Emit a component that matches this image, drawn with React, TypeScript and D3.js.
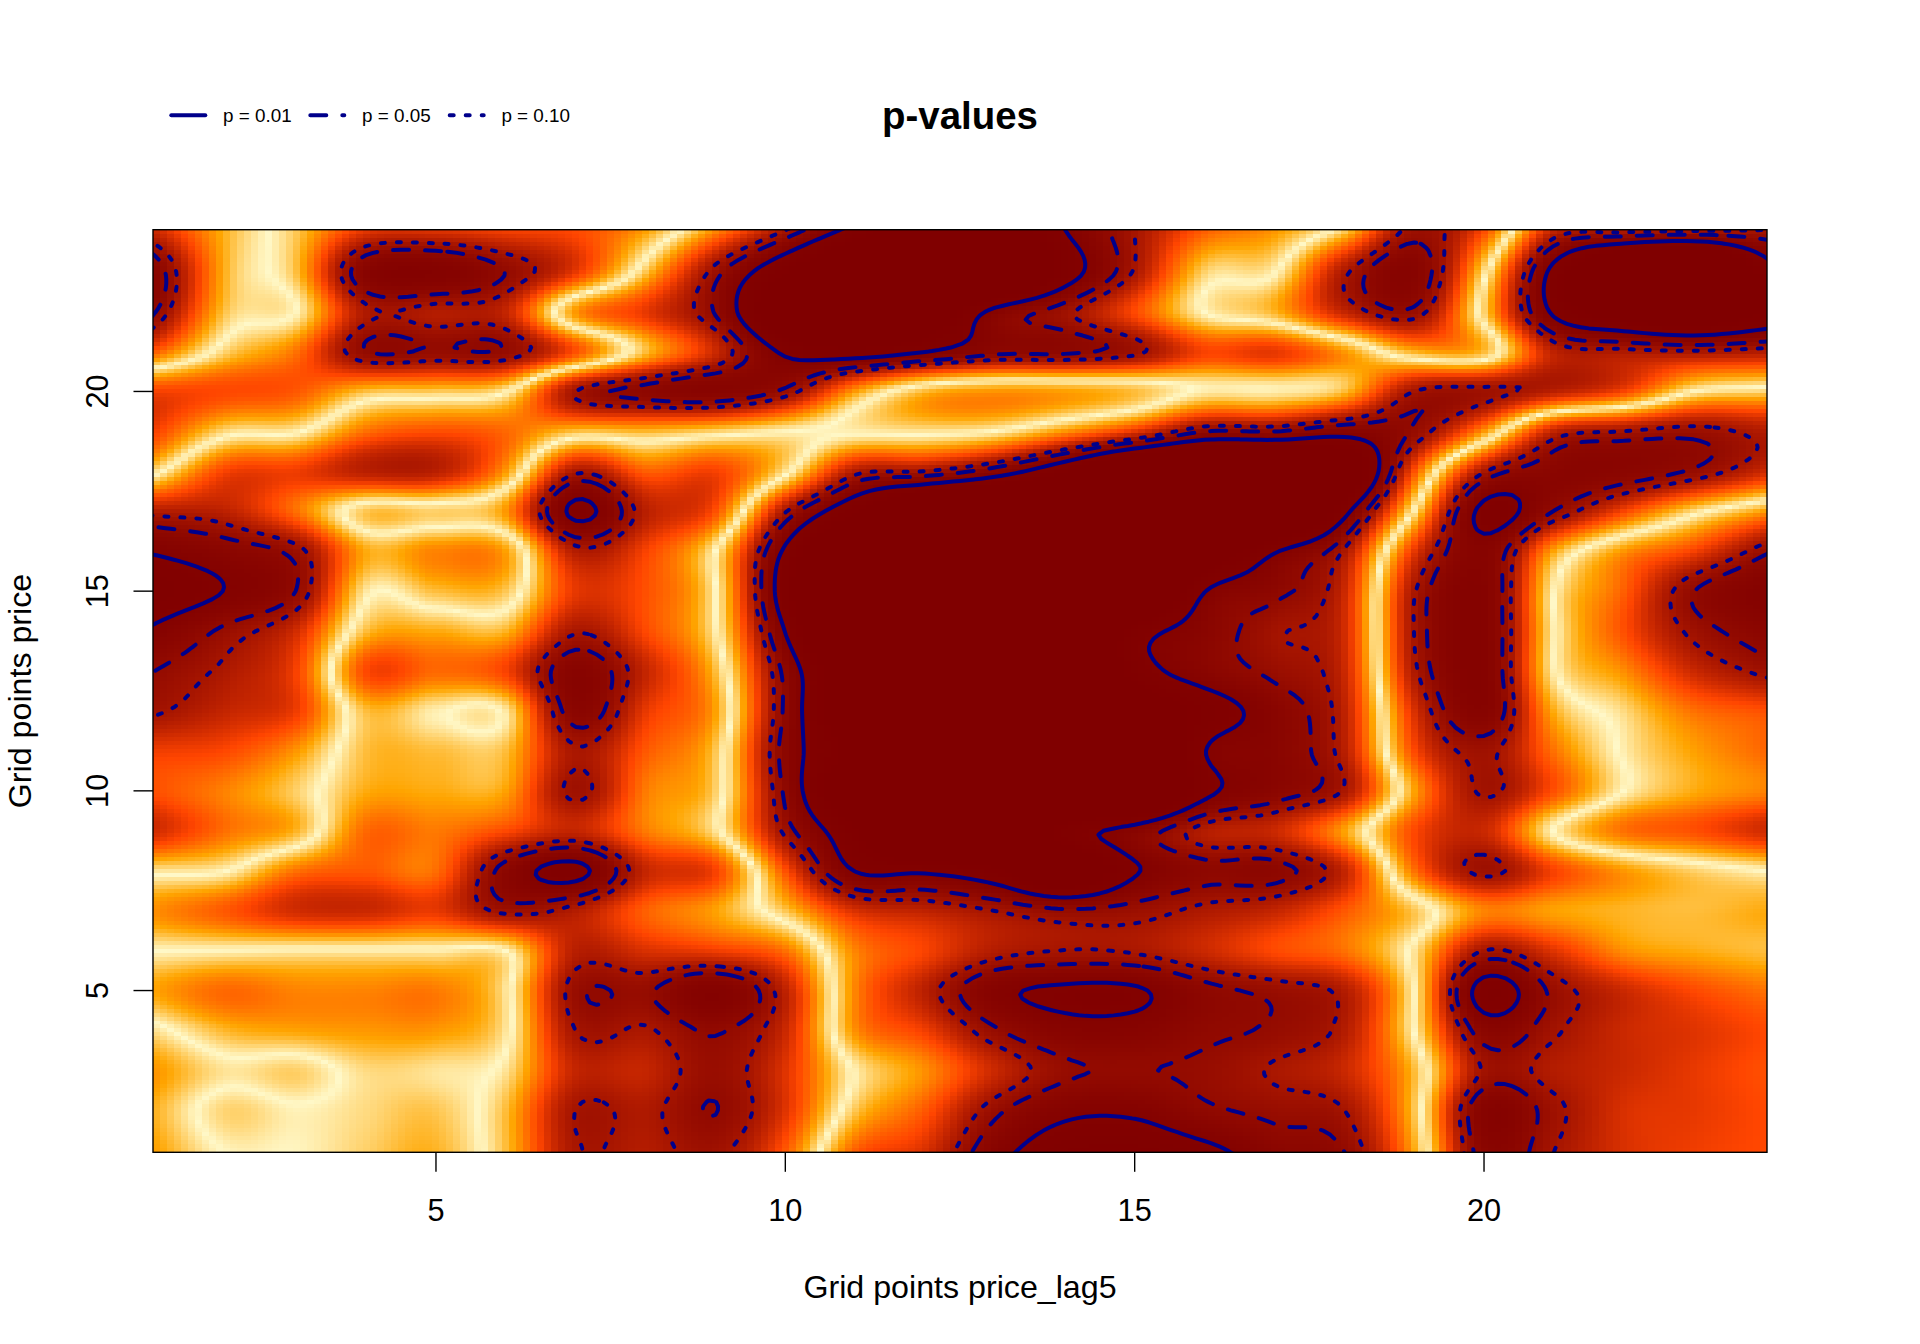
import React, { useEffect, useRef } from "react";
import * as d3 from "d3";

// Signed test statistic at each grid point (price_lag5 = 1..24); p = 2(1-Phi(|z|))
const z24 = [1.3,.35,-.25,-1.15,-1.2,-1.05,-.95,-.45,.6,1.7,2.9,4,4,2.6,1.65,.8,.5,-.25,-1.8,-.9,1.4,1.6,1.7,1.7];
const z23 = [2.2,.35,-.3,-2.3,-2.5,-1.95,-1.1,.25,1.8,3.2,4.5,5,5,3,1.6,.2,.02,-1.55,-2.3,-.1,2.8,4.5,5,3];
const z22 = [1.95,.25,-.02,-1.55,-1.5,-1.35,.5,1.1,2,4,5,4,2.4,1.75,.95,0,-.35,-1.35,-1.85,.2,2.7,3.6,4,3.2];
const z21 = [.8,-.2,-.7,-1.95,-1.9,-1.9,-.9,.3,1.3,2.7,3,2.6,2.1,2.05,1.75,1,1.1,.5,-.35,-.3,1.4,1.55,1.6,1.5];
const z20 = [-1,-.95,-.85,-.3,-.25,-.05,1.65,2.1,2.3,1.85,.5,-.3,-.5,-.45,-.3,.05,.05,.3,1.65,1.75,1.45,1,.02,-.15];
const z19 = [-1,-.15,-.05,.7,.9,.75,.3,.35,.2,.02,-.05,-.1,0,.5,1.1,1.95,1.95,2.3,1.9,.5,-1.35,-1.65,-1.8,-1.5];
const z18 = [-.1,1,1.05,1.45,1.45,.5,-1.55,-.8,-1,-.1,1.5,1.65,2.2,3.2,4.5,5,5,4,.9,-1.6,-2.2,-2.2,-1.9,-1.3];
const z17 = [1.5,1.4,.7,-.25,-.2,-.5,-2.72,-1.45,-.9,1.6,3.2,4.5,5,5,5,5,5,2.8,-.05,-2.75,-1.95,-1,-.15,.45];
const z16 = [2.5,2.2,1.8,.4,.6,.45,-1.5,-1,0,2.7,4.5,5,5,5,5,4,2.65,1.6,-1.1,-2.35,-.45,.5,1,1.85];
const z15 = [3,2.55,1.95,.08,.3,.25,-1.1,-.9,-.02,3,5,5,5,5,5,2.6,2.1,1.3,-1.6,-2.4,-.03,.8,1.95,2.5];
const z14 = [2.45,1.85,1.25,-.3,-.4,-.35,-1.6,-.95,-.05,2.6,5,5,5,5,3,2.25,1.7,1.25,-1.65,-2.4,-.05,.9,1.75,2.2];
const z13 = [1.95,1.55,1,-.95,-.75,-1,-2.3,-1.35,-.3,2.1,4,5,5,5,3,2.25,1.85,1.3,-1.55,-2.4,-.05,.55,1.3,1.75];
const z12 = [1.7,1.35,1.05,-.3,-.05,-.08,-2.2,-1.1,-.45,2.05,4,5,5,4.5,4,3,2.25,1.4,-1.2,-2.35,-.4,.15,.7,.9];
const z11 = [1.05,.95,.5,-.3,-.3,-.3,-1.6,-.85,-.25,2.15,3.5,5,5,5,5,2.6,2.25,1.45,-.95,-1.75,-.7,.05,.45,.75];
const z10 = [.9,.6,.2,-.4,-.4,-.45,-1.75,-.65,-.2,2.05,4,5,5,5,5,2.8,2.2,1.6,-.45,-1.7,-.9,0,.4,.6];
const z9 = [1.25,.7,.35,-.75,-.65,-.95,-1.35,-.65,-.1,1.75,3.2,5,4.5,3,2.3,1.5,1.3,.45,-.95,-1.3,0,.7,.9,1.25];
const z8 = [.1,0,-.7,-.85,-.72,-2.15,-2.75,-1.35,-1,.9,2.6,2.7,3.1,4,2.65,2.1,2.1,1.35,-.7,-1.75,-1,-.5,-.2,0];
const z7 = [-.55,-.85,-1.25,-1.3,-1.1,-1.75,-1.5,-.8,-.45,.25,1.2,1.4,1.65,1.9,1.8,1.55,1.35,.85,.25,-.6,-.45,-.35,-.3,-.4];
const z6 = [0,.02,.05,.05,.05,0,-1.45,-1.2,-1.05,-.7,.6,1,1.5,1.65,1.6,1.3,.95,.7,-.1,-1.65,-1.15,-.55,-.4,-.3];
const z5 = [.45,.75,.6,.6,.65,.1,-1.85,-1.9,-2.5,-1.4,.6,1.45,2.4,2.68,2.65,2.1,1.85,1.5,-.03,-2.85,-1.85,-1.3,-.95,-.7];
const z4 = [-.1,.35,.45,.5,.5,.1,-1.65,-1.6,-2,-1.3,.55,1.05,1.9,2.35,2.35,2.05,1.9,1.5,-.02,-2.2,-1.7,-1.3,-1.15,-.95];
const z3 = [-.5,-.1,-.2,.15,.1,-.1,-1.35,-1.35,-1.85,-1.15,.05,.55,1.3,1.88,1.97,1.88,1.6,1.3,.3,-1.7,-1.5,-1.3,-1.1,-.9];
const z2 = [-.35,.18,.03,.15,.25,-.3,-1.65,-1.55,-1.97,-1.15,.25,.85,1.85,2.42,2.45,2.05,1.85,1.65,.25,-2.35,-1.75,-1.2,-1.1,-.95];
const z1 = [-.45,.02,.02,.2,.35,-.3,-1.6,-1.5,-1.75,-.85,.8,1.2,2.3,3,3.1,2.75,2.2,1.95,.4,-2.2,-1.65,-1.2,-1.05,-.95];
const statRows = [z1,z2,z3,z4,z5,z6,z7,z8,z9,z10,z11,z12,z13,z14,z15,z16,z17,z18,z19,z20,z21,z22,z23,z24];

const xTicks = [5, 10, 15, 20];
const yTicks = [5, 10, 15, 20];
const pLevels = [0.01, 0.05, 0.10];
const zLevels = [2.576, 1.96, 1.645];
const legendLabels = ["p = 0.01", "p = 0.05", "p = 0.10"];
const dashes = ["none", "16 16", "4 12"];
const colorStops = ["#800000", "#FF4500", "#FFA500", "#FFF8C8"];
const colorDomain = [0, 1 / 3, 2 / 3, 1];

const LEFT = 153, RIGHT = 1767, TOP = 229.7, BOTTOM = 1152.3;
const FONT = "'Liberation Sans', Arial, sans-serif";
const BLUE = "#00008B";

const x = d3.scaleLinear().domain([0.95, 24.05]).range([LEFT, RIGHT]);
const y = d3.scaleLinear().domain([0.95, 24.05]).range([BOTTOM, TOP]);

function at(i: number, j: number) {
  const ci = Math.max(0, Math.min(23, i)), cj = Math.max(0, Math.min(23, j));
  const v = statRows[cj][ci];
  if (i === ci && j === cj) return v;
  const di = i - ci, dj = j - cj;
  const ni = ci - Math.sign(di), nj = cj - Math.sign(dj);
  return v + (di ? (v - statRows[cj][ni]) * Math.abs(di) : 0) + (dj ? (v - statRows[nj][ci]) * Math.abs(dj) : 0);
}
function cr(a: number, b: number, c: number, d: number, t: number) {
  return 0.5 * (2 * b + (c - a) * t + (2 * a - 5 * b + 4 * c - d) * t * t + (3 * b - a - 3 * c + d) * t * t * t);
}
function field(u: number, v: number) {
  const fu = u - 1, fv = v - 1;
  const i = Math.floor(fu), j = Math.floor(fv);
  const tu = fu - i, tv = fv - j;
  const col = [-1, 0, 1, 2].map((dj) => cr(at(i - 1, j + dj), at(i, j + dj), at(i + 1, j + dj), at(i + 2, j + dj), tu));
  return cr(col[0], col[1], col[2], col[3], tv);
}
function pValue(zv: number) {
  const a = Math.abs(zv);
  const t = 1 / (1 + 0.2316419 * a);
  const phi = Math.exp(-a * a / 2) / Math.sqrt(2 * Math.PI);
  const tail = phi * t * (0.31938153 + t * (-0.356563782 + t * (1.781477937 + t * (-1.821255978 + t * 1.330274429))));
  return Math.min(1, 2 * tail);
}
const color = d3.scaleLinear<string>().domain(colorDomain).range(colorStops).clamp(true);

export default function App() {
  const imgRef = useRef<SVGGElement>(null);
  const conRef = useRef<SVGGElement>(null);
  useEffect(() => {
    const cells: { u: number; v: number; c: string }[] = [];
    for (let j = 0; j <= 230; j++) for (let i = 0; i <= 230; i++) {
      const u = 1 + i / 10, v = 1 + j / 10;
      cells.push({ u, v, c: color(pValue(field(u, v))) });
    }
    d3.select(imgRef.current).selectAll("rect").data(cells).join("rect")
      .attr("x", (d) => x(d.u - 0.05)).attr("y", (d) => y(d.v + 0.05))
      .attr("width", x(1.1) - x(1)).attr("height", y(1) - y(1.1))
      .attr("fill", (d) => d.c).attr("shape-rendering", "crispEdges");

    const u0 = 0.4, n = 243, h = 0.1;
    const vals = new Array(n * n);
    for (let j = 0; j < n; j++) for (let i = 0; i < n; i++) vals[j * n + i] = Math.abs(field(u0 + i * h, u0 + j * h));
    const gen = d3.contours().size([n, n]).smooth(true);
    const line = d3.line<number[]>().x((p) => x(u0 + (p[0] - 0.5) * h)).y((p) => y(u0 + (p[1] - 0.5) * h));
    const g = d3.select(conRef.current);
    g.selectAll("*").remove();
    zLevels.forEach((lv, k) => {
      const mp = gen.contour(vals, lv);
      const ds: string[] = [];
      mp.coordinates.forEach((poly: number[][][]) => poly.forEach((ring) => ds.push(line(ring) as string)));
      ds.forEach((d) => g.append("path").attr("d", d).attr("fill", "none").attr("stroke", BLUE)
        .attr("stroke-width", 4).attr("stroke-linecap", "round").attr("stroke-linejoin", "round")
        .attr("stroke-dasharray", dashes[k]).attr("data-p", pLevels[k]));
    });
  }, []);

  const legX = [171.3, 310.3, 449.7];
  const legT = [223, 362, 501.4];
  return (
    <svg width={1920} height={1344} style={{ position: "absolute", left: 0, top: 0, background: "#fff" }} fontFamily={FONT}>
      <defs><clipPath id="plot"><rect x={LEFT} y={TOP} width={RIGHT - LEFT} height={BOTTOM - TOP} /></clipPath></defs>
      <g ref={imgRef} />
      <g ref={conRef} clipPath="url(#plot)" />
      <rect x={LEFT} y={TOP} width={RIGHT - LEFT} height={BOTTOM - TOP} fill="none" stroke="#000" strokeWidth={1.4} />
      {xTicks.map((t) => (
        <g key={t}>
          <line x1={x(t)} x2={x(t)} y1={BOTTOM} y2={BOTTOM + 19.5} stroke="#000" strokeWidth={1.4} />
          <text x={x(t)} y={1221} textAnchor="middle" fontSize={30.7} fill="#000">{t}</text>
        </g>
      ))}
      {yTicks.map((t) => (
        <g key={t}>
          <line x1={LEFT} x2={LEFT - 19.5} y1={y(t)} y2={y(t)} stroke="#000" strokeWidth={1.4} />
          <text transform={`translate(108,${y(t)}) rotate(-90)`} textAnchor="middle" fontSize={30.7} fill="#000">{t}</text>
        </g>
      ))}
      <text x={960} y={1298} textAnchor="middle" fontSize={32.2} fill="#000">Grid points price_lag5</text>
      <text transform="translate(31,691) rotate(-90)" textAnchor="middle" fontSize={32.2} fill="#000">Grid points price</text>
      <text x={960} y={129} textAnchor="middle" fontSize={38.4} fontWeight="bold" fill="#000">p-values</text>
      {legendLabels.map((l, k) => (
        <g key={l}>
          <line x1={legX[k]} x2={legX[k] + 34} y1={115.3} y2={115.3} stroke={BLUE} strokeWidth={4} strokeLinecap="round" strokeDasharray={dashes[k]} />
          <text x={legT[k]} y={121.7} fontSize={18.85} fill="#000">{l}</text>
        </g>
      ))}
    </svg>
  );
}
